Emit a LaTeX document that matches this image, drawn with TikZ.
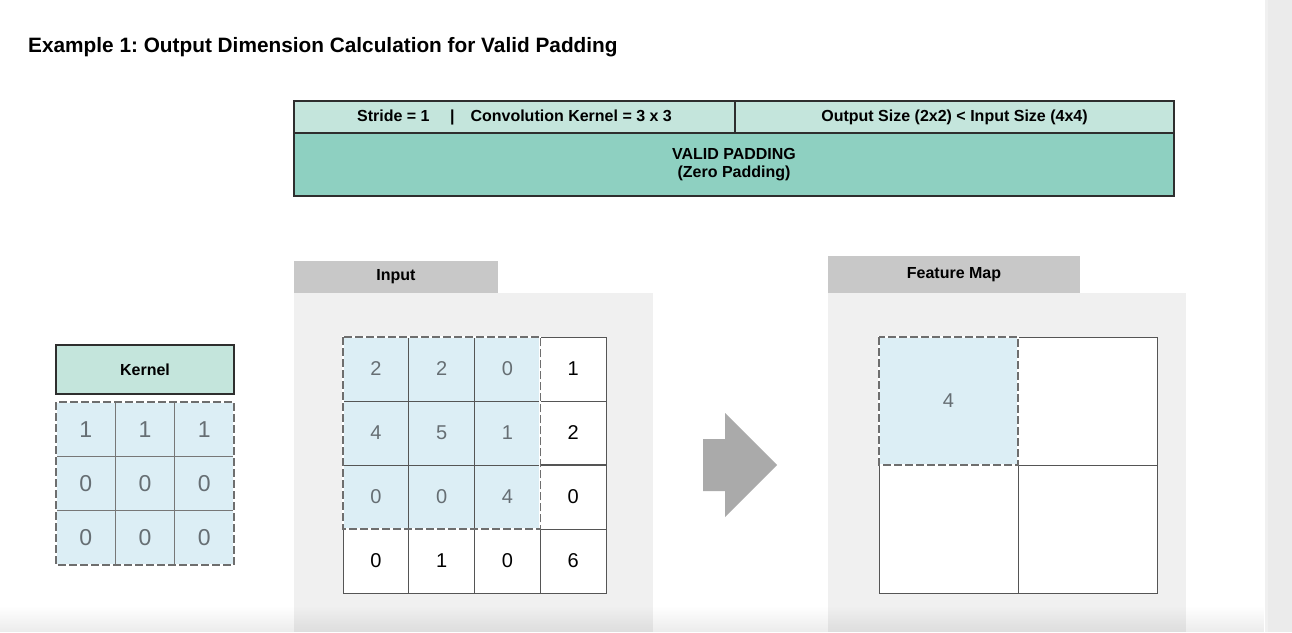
\documentclass[tikz,border=0pt]{standalone}
\usepackage{fontspec}
\setmainfont{Liberation Sans}
\usetikzlibrary{fadings}
\frenchspacing
\definecolor{tealL}{HTML}{C4E5DC}
\definecolor{tealD}{HTML}{8ED0C1}
\definecolor{tabgray}{HTML}{C8C8C8}
\definecolor{panelgray}{HTML}{F0F0F0}
\definecolor{lblue}{HTML}{DCEEF5}
\definecolor{gline}{HTML}{555555}
\definecolor{numgray}{HTML}{666E73}
\definecolor{arrowgray}{HTML}{AAAAAA}
\definecolor{stripgray}{HTML}{EBEBEB}
\definecolor{border}{HTML}{2E2E2E}
\tikzset{
  banner/.style={draw=border, line width=2pt, inner sep=0pt, outer sep=0pt, font=\bfseries\fontsize{16}{18}\selectfont, align=center},
  tabbox/.style={fill=tabgray, inner sep=0pt, outer sep=0pt, font=\bfseries\fontsize{16}{18}\selectfont},
  panel/.style={fill=panelgray, inner sep=0pt, outer sep=0pt},
  incell/.style={draw=gline, line width=1pt, minimum width=65.75pt, minimum height=64pt, inner sep=0pt, outer sep=0pt, font=\fontsize{20}{22}\selectfont},
  hot/.style={fill=lblue, text=numgray},
  cold/.style={fill=white, text=black},
  kcell/.style={draw=gline!80, line width=0.8pt, fill=lblue, text=numgray, minimum width=59.33pt, minimum height=54.33pt, inner sep=0pt, outer sep=0pt, font=\fontsize{23}{24}\selectfont},
  fcell/.style={draw=gline, line width=1pt, minimum width=139pt, minimum height=128pt, inner sep=0pt, outer sep=0pt, font=\fontsize{20}{22}\selectfont},
  eraseline/.style={draw=white, line width=1.8pt},
  dashline/.style={draw=gline!85, line width=1.3pt, dash pattern=on 8pt off 3pt},
}
\begin{document}
\begin{tikzpicture}[x=1pt, y=-1pt]
\useasboundingbox (0,0) rectangle (1292,632);
\fill[white] (0,0) rectangle (1292,632);
% right strip
\fill[stripgray] (1265,0) rectangle (1292,632);
\fill[black!6] (1265,0) rectangle (1268,632);

% title
\node[anchor=west, inner sep=0pt, font=\bfseries\fontsize{20.8}{22}\selectfont] (title) at (28,47) {Example 1: Output Dimension Calculation for Valid Padding};

% banner
\node[banner, fill=tealL, minimum width=441pt, minimum height=32pt, anchor=north west] (stride) at (294,101) {Stride = 1\quad\ |\quad Convolution Kernel = 3 x 3};
\node[banner, fill=tealL, minimum width=439pt, minimum height=32pt, anchor=north west] (outsize) at (735,101) {Output Size (2x2) < Input Size (4x4)};
\node[banner, fill=tealD, minimum width=880pt, minimum height=63pt, anchor=north west] (valid) at (294,133) {VALID PADDING\\[0pt](Zero Padding)};

% input panel
\node[panel, minimum width=359pt, minimum height=339pt, anchor=north west] (inpanel) at (294,293) {};
\node[tabbox, minimum width=204pt, minimum height=32pt, anchor=north west] (intab) at (294,261) {Input};

% input grid
\foreach \r/\y in {1/369,2/433,3/497,4/561}{
  \foreach \c/\x in {1/375.875,2/441.625,3/507.375,4/573.125}{
    \coordinate (ic\r\c) at (\x,\y);
  }
}
\node[incell, hot] (i11) at (ic11) {2};
\node[incell, hot] (i12) at (ic12) {2};
\node[incell, hot] (i13) at (ic13) {0};
\node[incell, cold] (i14) at (ic14) {1};
\node[incell, hot] (i21) at (ic21) {4};
\node[incell, hot] (i22) at (ic22) {5};
\node[incell, hot] (i23) at (ic23) {1};
\node[incell, cold] (i24) at (ic24) {2};
\node[incell, hot] (i31) at (ic31) {0};
\node[incell, hot] (i32) at (ic32) {0};
\node[incell, hot] (i33) at (ic33) {4};
\node[incell, cold] (i34) at (ic34) {0};
\node[incell, cold] (i41) at (ic41) {0};
\node[incell, cold] (i42) at (ic42) {1};
\node[incell, cold] (i43) at (ic43) {0};
\node[incell, cold] (i44) at (ic44) {6};
\draw[gline, line width=2pt] (i34.north west) -- (i34.north east);
\draw[eraseline] (i11.north west) rectangle (i33.south east);
\draw[dashline] (i11.north west) rectangle (i33.south east);

% kernel
\node[banner, fill=tealL, minimum width=178pt, minimum height=49pt, anchor=north west] (ktab) at (56,345) {Kernel};
\foreach \r/\y in {1/429.17,2/483.5,3/537.83}{
  \foreach \c/\x in {1/85.67,2/145,3/204.33}{
    \coordinate (kc\r\c) at (\x,\y);
  }
}
\node[kcell] (k11) at (kc11) {1};
\node[kcell] (k12) at (kc12) {1};
\node[kcell] (k13) at (kc13) {1};
\node[kcell] (k21) at (kc21) {0};
\node[kcell] (k22) at (kc22) {0};
\node[kcell] (k23) at (kc23) {0};
\node[kcell] (k31) at (kc31) {0};
\node[kcell] (k32) at (kc32) {0};
\node[kcell] (k33) at (kc33) {0};
\draw[eraseline] (k11.north west) rectangle (k33.south east);
\draw[dashline, line width=1.1pt] (k11.north west) rectangle (k33.south east);

% big arrow
\fill[arrowgray] (703,439) -- (725,439) -- (725,413) -- (777,465) -- (725,517) -- (725,491) -- (703,491) -- cycle;

% feature map panel
\node[panel, minimum width=358pt, minimum height=339pt, anchor=north west] (fpanel) at (828,293) {};
\node[tabbox, minimum width=252pt, minimum height=37pt, anchor=north west] (ftab) at (828,256) {Feature Map};
\node[fcell, fill=lblue, text=numgray] (f11) at (948.5,401) {4};
\node[fcell, fill=white] (f12) at (1087.5,401) {};
\node[fcell, fill=white] (f21) at (948.5,529) {};
\node[fcell, fill=white] (f22) at (1087.5,529) {};
\draw[eraseline] (f11.north west) rectangle (f11.south east);
\draw[dashline] (f11.north west) rectangle (f11.south east);

% bottom fade
\fill[black, opacity=0.08, path fading=north] (0,606) rectangle (1265,632);
\end{tikzpicture}
\end{document}
